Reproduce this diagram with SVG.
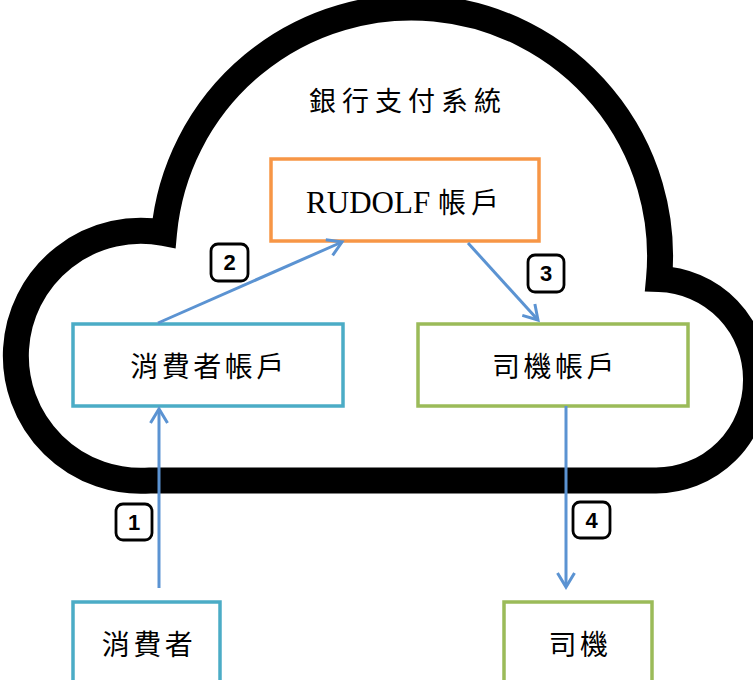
<svg xmlns="http://www.w3.org/2000/svg" width="753" height="680" viewBox="0 0 753 680">
<style>
.box{fill:#fff;stroke-width:3.5}
.cyan{stroke:#4BACC6}
.green{stroke:#9BBB59}
.orange{stroke:#F79646}
.cjk{font-family:"Noto Sans CJK TC","Noto Sans CJK SC",sans-serif;font-size:28px;fill:#000;text-anchor:middle;letter-spacing:3.5px}
.conn{stroke:#5B93D2;stroke-width:3;fill:none}
.num rect{fill:#fff;stroke:#000;stroke-width:2.8}
.num text{font-family:"Liberation Sans",Arial,sans-serif;font-weight:bold;font-size:22px;text-anchor:middle;fill:#000}
</style>
<defs>
<marker id="ah" markerUnits="userSpaceOnUse" viewBox="-16 -10 18 20" refX="0" refY="0" markerWidth="18" markerHeight="20" orient="auto" overflow="visible">
<path d="M -14 -8.5 L 0 0 L -14 8.5" fill="none" stroke="#5B93D2" stroke-width="3" stroke-linejoin="miter"/>
</marker>
</defs>
<rect width="753" height="680" fill="#fff"/>
<g id="cloud">
<path d="M 150 480.5 A 125 125 0 1 1 164 233 A 248 248 0 0 1 659 279 A 100 100 0 0 1 756 380 A 100 100 0 0 1 655 480.5 Z" fill="none" stroke="#000" stroke-width="26" stroke-linejoin="miter"/>
<text class="cjk" x="408" y="111" style="font-size:27px;letter-spacing:6px">銀行支付系統</text>
</g>
<g id="rudolf">
<rect class="box orange" x="271" y="159" width="268" height="82"/>
<text x="405" y="213" style="font-size:31px;text-anchor:middle;fill:#000"><tspan font-family="Liberation Serif,Times New Roman,serif">RUDOLF </tspan><tspan font-family="Noto Sans CJK TC,Noto Sans CJK SC,sans-serif" style="font-size:28px;letter-spacing:5px">帳戶</tspan></text>
</g>
<g id="consumer-account">
<rect class="box cyan" x="73" y="324" width="270" height="82"/>
<text class="cjk" x="209" y="377">消費者帳戶</text>
</g>
<g id="driver-account">
<rect class="box green" x="418" y="324" width="270" height="82"/>
<text class="cjk" x="555" y="377">司機帳戶</text>
</g>
<g id="consumer">
<rect class="box cyan" x="73" y="602" width="147" height="100"/>
<text class="cjk" x="149" y="655">消費者</text>
</g>
<g id="driver">
<rect class="box green" x="504" y="602" width="148" height="100"/>
<text class="cjk" x="580" y="655">司機</text>
</g>
<g id="connectors">
<line class="conn" x1="159" y1="588" x2="159" y2="409" marker-end="url(#ah)"/>
<line class="conn" x1="158" y1="323" x2="342" y2="242" marker-end="url(#ah)"/>
<line class="conn" x1="468" y1="243" x2="538" y2="320" marker-end="url(#ah)"/>
<line class="conn" x1="566" y1="406" x2="566" y2="587" marker-end="url(#ah)"/>
</g>
<g id="labels">
<g class="num"><rect x="116" y="504" width="36" height="36" rx="7"/><text x="134" y="530">1</text></g>
<g class="num"><rect x="211" y="244" width="37" height="37" rx="7"/><text x="229.5" y="270">2</text></g>
<g class="num"><rect x="528" y="255" width="36" height="37" rx="7"/><text x="546" y="281">3</text></g>
<g class="num"><rect x="573" y="502" width="37" height="36" rx="7"/><text x="591.5" y="528">4</text></g>
</g>
</svg>
